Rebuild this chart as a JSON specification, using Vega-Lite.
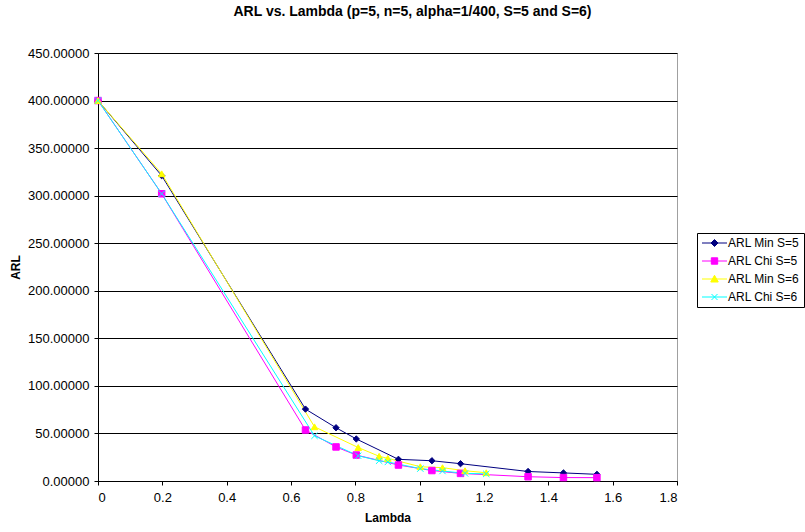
{
  "$schema": "https://vega.github.io/schema/vega-lite/v6.json",
  "width": 579,
  "height": 428,
  "autosize": {"type": "none"},
  "padding": {"left": 98, "top": 53, "right": 128, "bottom": 51},
  "background": "white",
  "title": {
    "text": "ARL vs. Lambda (p=5, n=5, alpha=1/400, S=5 and S=6)",
    "font": "Liberation Sans",
    "fontSize": 14,
    "fontWeight": "bold",
    "color": "black",
    "anchor": "middle",
    "frame": "group",
    "dx": 25,
    "offset": 28
  },
  "data": {
    "values": [
      {"series": "ARL Min S=5", "lambda": 0, "arl": 400},
      {"series": "ARL Min S=5", "lambda": 0.198, "arl": 321},
      {"series": "ARL Min S=5", "lambda": 0.645, "arl": 75.6},
      {"series": "ARL Min S=5", "lambda": 0.74, "arl": 56},
      {"series": "ARL Min S=5", "lambda": 0.803, "arl": 44.2},
      {"series": "ARL Min S=5", "lambda": 0.934, "arl": 22.8},
      {"series": "ARL Min S=5", "lambda": 1.038, "arl": 21.3},
      {"series": "ARL Min S=5", "lambda": 1.127, "arl": 18.2},
      {"series": "ARL Min S=5", "lambda": 1.337, "arl": 10},
      {"series": "ARL Min S=5", "lambda": 1.447, "arl": 8.5},
      {"series": "ARL Min S=5", "lambda": 1.551, "arl": 7},
      {"series": "ARL Chi S=5", "lambda": 0, "arl": 400},
      {"series": "ARL Chi S=5", "lambda": 0.198, "arl": 302},
      {"series": "ARL Chi S=5", "lambda": 0.645, "arl": 53.6},
      {"series": "ARL Chi S=5", "lambda": 0.74, "arl": 35.8},
      {"series": "ARL Chi S=5", "lambda": 0.803, "arl": 27.3},
      {"series": "ARL Chi S=5", "lambda": 0.934, "arl": 16.8},
      {"series": "ARL Chi S=5", "lambda": 1.038, "arl": 11},
      {"series": "ARL Chi S=5", "lambda": 1.127, "arl": 8},
      {"series": "ARL Chi S=5", "lambda": 1.337, "arl": 4.5},
      {"series": "ARL Chi S=5", "lambda": 1.447, "arl": 3.6},
      {"series": "ARL Chi S=5", "lambda": 1.551, "arl": 3.5},
      {"series": "ARL Min S=6", "lambda": 0, "arl": 400},
      {"series": "ARL Min S=6", "lambda": 0.198, "arl": 323},
      {"series": "ARL Min S=6", "lambda": 0.673, "arl": 57},
      {"series": "ARL Min S=6", "lambda": 0.809, "arl": 35.2},
      {"series": "ARL Min S=6", "lambda": 0.874, "arl": 26},
      {"series": "ARL Min S=6", "lambda": 0.901, "arl": 23.8},
      {"series": "ARL Min S=6", "lambda": 1.002, "arl": 15},
      {"series": "ARL Min S=6", "lambda": 1.071, "arl": 14},
      {"series": "ARL Min S=6", "lambda": 1.141, "arl": 10.8},
      {"series": "ARL Min S=6", "lambda": 1.207, "arl": 8.7},
      {"series": "ARL Chi S=6", "lambda": 0, "arl": 400},
      {"series": "ARL Chi S=6", "lambda": 0.198, "arl": 302},
      {"series": "ARL Chi S=6", "lambda": 0.673, "arl": 47.5},
      {"series": "ARL Chi S=6", "lambda": 0.809, "arl": 26.5},
      {"series": "ARL Chi S=6", "lambda": 0.874, "arl": 21.3},
      {"series": "ARL Chi S=6", "lambda": 0.901, "arl": 20},
      {"series": "ARL Chi S=6", "lambda": 1.002, "arl": 13},
      {"series": "ARL Chi S=6", "lambda": 1.071, "arl": 10.5},
      {"series": "ARL Chi S=6", "lambda": 1.141, "arl": 8},
      {"series": "ARL Chi S=6", "lambda": 1.207, "arl": 7.5}
    ]
  },
  "encoding": {
    "x": {
      "field": "lambda",
      "type": "quantitative",
      "title": "Lambda",
      "scale": {"domain": [0, 1.8], "nice": false, "zero": false},
      "axis": {
        "values": [0, 0.2, 0.4, 0.6, 0.8, 1, 1.2, 1.4, 1.6, 1.8],
        "format": "~f",
        "grid": false,
        "labelPadding": 6,
        "titlePadding": 8
      }
    },
    "y": {
      "field": "arl",
      "type": "quantitative",
      "title": "ARL",
      "scale": {"domain": [0, 450], "nice": false},
      "axis": {
        "values": [0, 50, 100, 150, 200, 250, 300, 350, 400, 450],
        "format": ".5f",
        "grid": true,
        "labelPadding": 5,
        "titlePadding": 5
      }
    }
  },
  "layer": [
    {
      "mark": {"type": "line", "strokeWidth": 1},
      "encoding": {
        "color": {
          "field": "series",
          "type": "nominal",
          "sort": null,
          "scale": {
            "domain": ["ARL Min S=5", "ARL Chi S=5", "ARL Min S=6", "ARL Chi S=6"],
            "range": ["#000080", "#FF00FF", "#FFFF00", "#00FFFF"]
          },
          "legend": {
            "title": null,
            "orient": "none",
            "legendX": 599,
            "legendY": 180,
            "padding": 4,
            "strokeColor": "black",
            "fillColor": "white",
            "symbolSize": 100,
            "symbolStrokeWidth": 1,
            "labelOffset": 15,
            "labelFont": "Liberation Sans",
            "labelFontSize": 12,
            "labelColor": "black",
            "rowPadding": 6,
            "encode": {
              "symbols": {
                "update": {
                  "shape": {"signal": "datum.value === 'ARL Min S=5' ? 'M-1,0H4M1.5,-0.7L2.2,0L1.5,0.7L0.8,0Z' : datum.value === 'ARL Chi S=5' ? 'M-1,0H4M0.86,-0.64H2.14V0.64H0.86Z' : datum.value === 'ARL Min S=6' ? 'M-1,0H4M1.5,-0.75L2.25,0.6H0.75Z' : 'M-1,0H4M0.9,-0.6L2.1,0.6M0.9,0.6L2.1,-0.6'"},
                  "fill": {"signal": "scale('color', datum.value)"},
                  "stroke": {"signal": "scale('color', datum.value)"},
                  "strokeWidth": {"value": 1},
                  "opacity": {"value": 1}
                }
              }
            }
          }
        }
      }
    },
    {
      "transform": [{"filter": "datum.series === 'ARL Min S=5'"}],
      "mark": {"type": "point", "shape": "diamond", "filled": true, "size": 40, "strokeWidth": 1, "color": "#000080", "stroke": "#000080", "opacity": 1}
    },
    {
      "transform": [{"filter": "datum.series === 'ARL Chi S=5'"}],
      "mark": {"type": "point", "shape": "square", "filled": true, "size": 42, "strokeWidth": 1, "color": "#FF00FF", "stroke": "#FF00FF", "opacity": 1}
    },
    {
      "transform": [{"filter": "datum.series === 'ARL Min S=6'"}],
      "mark": {"type": "point", "shape": "triangle-up", "filled": true, "size": 45, "strokeWidth": 1, "color": "#FFFF00", "stroke": "#FFFF00", "opacity": 1}
    },
    {
      "transform": [{"filter": "datum.series === 'ARL Chi S=6'"}],
      "mark": {"type": "point", "shape": "M-1,-1L1,1M-1,1L1,-1", "filled": false, "size": 40, "strokeWidth": 1, "color": "#00FFFF", "opacity": 1}
    }
  ],
  "config": {
    "font": "Liberation Sans",
    "view": {"stroke": "#a0a0a0", "strokeWidth": 1},
    "axis": {
      "labelFont": "Liberation Sans",
      "labelFontSize": 13,
      "labelColor": "black",
      "titleFont": "Liberation Sans",
      "titleFontSize": 12,
      "titleFontWeight": "bold",
      "titleColor": "black",
      "domainColor": "black",
      "domainWidth": 1,
      "tickColor": "black",
      "tickSize": 4,
      "tickWidth": 1,
      "gridColor": "black",
      "gridWidth": 1
    }
  }
}
